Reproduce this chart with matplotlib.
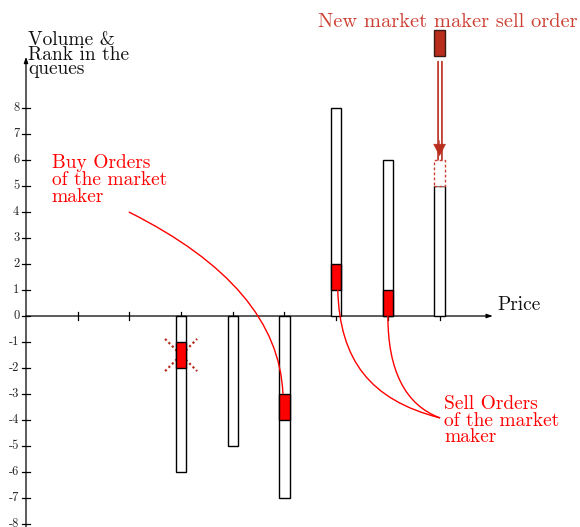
import numpy as np
import matplotlib
matplotlib.use('Agg')
import matplotlib.pyplot as plt
from matplotlib.patches import Rectangle
from matplotlib.path import Path
from matplotlib.patches import PathPatch

plt.rcParams['font.family'] = 'cmr10'
plt.rcParams['axes.unicode_minus'] = False

# order book data
buy_prices = [3, 4, 5]
buy_volumes = [6, 5, 7]
buy_mm_rank = [1, None, 3]        # market maker order sits between rank and rank+1

sell_prices = [6, 7, 8]
sell_volumes = [8, 6, 5]
sell_mm_rank = [1, 0, None]

new_order_price = 8
new_order_level = 10              # box from 10 to 11 above the book
y_ticks = list(range(-8, 9))
x_ticks = list(range(1, 9))

mm_red = '#ff0000'
new_red = '#b82d1c'
txt_red = '#cc3f33'
bar_w = 0.2

fig = plt.figure(figsize=(5.8, 5.27), dpi=100)
ax = fig.add_axes([0, 0, 1, 1])
ax.set_xlim(-0.503, 10.716)
ax.set_ylim(-8.115, 12.154)
ax.axis('off')

# axes
ax.annotate('', xy=(9.03, 0), xytext=(0, 0),
            arrowprops=dict(arrowstyle='-|>,head_length=0.35,head_width=0.12',
                            color='black', lw=0.9, shrinkA=0, shrinkB=0))
ax.annotate('', xy=(0, 9.97), xytext=(0, -8.3),
            arrowprops=dict(arrowstyle='-|>,head_length=0.35,head_width=0.12',
                            color='black', lw=0.9, shrinkA=0, shrinkB=0))
for t in x_ticks:
    ax.plot([t, t], [-0.15, 0.15], color='black', lw=0.9)
for t in y_ticks:
    ax.plot([-0.077, 0.077], [t, t], color='black', lw=0.9)
    ax.text(-0.13, t, str(t), ha='right', va='center', fontsize=9, color='#222222')

ax.text(0.04, 10.95, 'Volume &\nRank in the\nqueues', ha='left', va='top',
        fontsize=14, linespacing=0.75, color='#111111')
ax.text(9.11, 0.42, 'Price', ha='left', va='center', fontsize=14, color='#111111')


def draw_side(prices, volumes, ranks, sign):
    for p, v, r in zip(prices, volumes, ranks):
        ax.add_patch(Rectangle((p - bar_w / 2, 0), bar_w, sign * v,
                               facecolor='white', edgecolor='black', lw=1, zorder=3))
        if r is not None:
            ax.add_patch(Rectangle((p - bar_w / 2, sign * r), bar_w, sign,
                                   facecolor=mm_red, edgecolor='black', lw=1, zorder=4))


draw_side(buy_prices, buy_volumes, buy_mm_rank, -1)
draw_side(sell_prices, sell_volumes, sell_mm_rank, 1)

# cancelled buy order (dotted cross)
cx, cy = buy_prices[0], -(buy_mm_rank[0] + 0.5)
for dx, dy in [(1, 1), (1, -1)]:
    ax.plot([cx - 0.31 * dx, cx + 0.31 * dx], [cy - 0.62 * dy, cy + 0.62 * dy],
            color=new_red, lw=1.6, ls=(0, (1, 1.2)), zorder=2)

# new sell order and where it goes
ax.add_patch(Rectangle((new_order_price - bar_w / 2, new_order_level), bar_w, 1,
                       facecolor=new_red, edgecolor='#3a1a14', lw=1, zorder=4))
dest = sell_volumes[sell_prices.index(new_order_price)]
ax.add_patch(Rectangle((new_order_price - bar_w / 2, dest), bar_w, 1,
                       facecolor='white', edgecolor=txt_red, lw=1,
                       ls=(0, (2, 1.6)), zorder=4))
ax.plot([new_order_price, new_order_price], [new_order_level - 0.2, dest + 0.65],
        color=new_red, lw=4, solid_capstyle='butt', zorder=3)
ax.plot([new_order_price, new_order_price], [new_order_level - 0.2, dest + 0.6],
        color='white', lw=1.6, solid_capstyle='butt', zorder=3)
ax.annotate('', xy=(new_order_price, dest + 1.15), xytext=(new_order_price, dest + 1.75),
            arrowprops=dict(arrowstyle='-|>,head_length=0.8,head_width=0.42',
                            color=new_red, lw=0.5, shrinkA=0, shrinkB=0), zorder=5)
ax.text(8.15, 11.1, 'New market maker sell order', ha='center', va='baseline',
        fontsize=14.7, color=txt_red)

# annotations
ax.text(0.5, 6.25, 'Buy Orders\nof the market\nmaker', ha='left', va='top',
        fontsize=14, linespacing=0.95, color=mm_red)
ax.text(8.09, -3.05, 'Sell Orders\nof the market\nmaker', ha='left', va='top',
        fontsize=14, linespacing=0.9, color=mm_red)

curves = [
    [(1.99, 4.0), (4.89, 1.12), (4.97, -buy_mm_rank[2])],
]
for pts in curves:
    ax.add_patch(PathPatch(Path(pts, [Path.MOVETO, Path.CURVE3, Path.CURVE3]),
                           facecolor='none', edgecolor=mm_red, lw=1, zorder=5))
sell_curves = [
    [(6.03, sell_mm_rank[0]), (6.07, -1.69), (6.65, -3.23), (8.01, -3.92)],
    [(7.0, sell_mm_rank[1]), (7.0, -2.08), (7.33, -3.42), (8.01, -3.92)],
]
for pts in sell_curves:
    ax.add_patch(PathPatch(Path(pts, [Path.MOVETO, Path.CURVE4, Path.CURVE4, Path.CURVE4]),
                           facecolor='none', edgecolor=mm_red, lw=1, zorder=5))

fig.savefig('out.png', dpi=100)
